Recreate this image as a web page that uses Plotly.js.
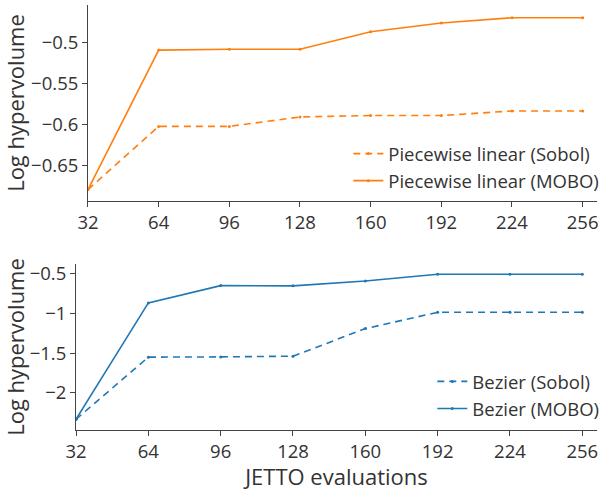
<!DOCTYPE html>
<html>
<head>
<meta charset="utf-8">
<script src="https://cdn.plot.ly/plotly-3.0.1.min.js"></script>
<style>html,body{margin:0;padding:0;background:#fff;}#plot{width:600px;height:491px;}</style>
</head>
<body>
<div id="plot"></div>
<script>
const evaluations = [32, 64, 96, 128, 160, 192, 224, 256];
const pwlSobol = [-0.679, -0.602, -0.602, -0.5905, -0.5888, -0.5888, -0.5832, -0.5832];
const pwlMobo = [-0.679, -0.509, -0.508, -0.508, -0.4866, -0.476, -0.4695, -0.4695];
const bezSobol = [-2.335, -1.55, -1.547, -1.538, -1.19, -0.984, -0.984, -0.984];
const bezMobo = [-2.335, -0.865, -0.647, -0.65, -0.588, -0.504, -0.504, -0.504];
const xTicks = [32, 64, 96, 128, 160, 192, 224, 256];

const orange = '#ff7f0e', blue = '#1f77b4';
const dashStyle = '7px,5px';
const traces = [
  {x: evaluations, y: pwlSobol, name: 'Piecewise linear (Sobol)', mode: 'lines+markers',
   line: {color: orange, width: 1.6, dash: dashStyle}, marker: {size: 3, color: orange},
   xaxis: 'x', yaxis: 'y', legend: 'legend'},
  {x: evaluations, y: pwlMobo, name: 'Piecewise linear (MOBO)', mode: 'lines+markers',
   line: {color: orange, width: 1.6}, marker: {size: 3, color: orange},
   xaxis: 'x', yaxis: 'y', legend: 'legend'},
  {x: evaluations, y: bezSobol, name: 'Bezier (Sobol)', mode: 'lines+markers',
   line: {color: blue, width: 1.6, dash: dashStyle}, marker: {size: 3, color: blue},
   xaxis: 'x2', yaxis: 'y2', legend: 'legend2'},
  {x: evaluations, y: bezMobo, name: 'Bezier (MOBO)', mode: 'lines+markers',
   line: {color: blue, width: 1.6}, marker: {size: 3, color: blue},
   xaxis: 'x2', yaxis: 'y2', legend: 'legend2'}
];

const txt = '#333333';
const axisCommon = {
  showgrid: false, zeroline: false, showline: true, linecolor: '#444', linewidth: 1,
  ticks: 'outside', ticklen: 5, tickcolor: '#444', tickfont: {size: 18.5, color: txt},
  automargin: false
};
const legendCommon = {
  xanchor: 'right', yanchor: 'bottom', x: 1.014, bgcolor: 'rgba(255,255,255,0.8)',
  font: {size: 18.5, color: txt}, tracegroupgap: 0, itemwidth: 30
};

const layout = {
  width: 600, height: 491,
  margin: {l: 76, r: 3, t: 5, b: 61, autoexpand: false},
  font: {family: '"Open Sans", "Noto Sans", sans-serif', color: txt},
  paper_bgcolor: '#fff', plot_bgcolor: '#fff',
  showlegend: true,
  xaxis: Object.assign({}, axisCommon, {domain: [0.023, 1], range: [32, 262.5],
    tickvals: xTicks, ticktext: xTicks.map(String), anchor: 'y'}),
  yaxis: Object.assign({}, axisCommon, {domain: [0.5388, 1], range: [-0.693, -0.454],
    tickvals: [-0.65, -0.6, -0.55, -0.5], anchor: 'x',
    title: {text: 'Log hypervolume', font: {size: 22, color: txt}}}),
  xaxis2: Object.assign({}, axisCommon, {domain: [0, 1], range: [32, 262.5],
    tickvals: xTicks, ticktext: xTicks.map(String), anchor: 'y2',
    title: {text: 'JETTO evaluations', font: {size: 22, color: txt}, standoff: 2}}),
  yaxis2: Object.assign({}, axisCommon, {domain: [0, 0.3906], range: [-2.47, -0.374],
    tickvals: [-2, -1.5, -1, -0.5], anchor: 'x2',
    title: {text: 'Log hypervolume', font: {size: 22, color: txt}}}),
  legend: Object.assign({}, legendCommon, {y: 0.541}),
  legend2: Object.assign({}, legendCommon, {y: 0.005})
};

Plotly.newPlot('plot', traces, layout, {displayModeBar: false, staticPlot: true});
</script>
</body>
</html>
